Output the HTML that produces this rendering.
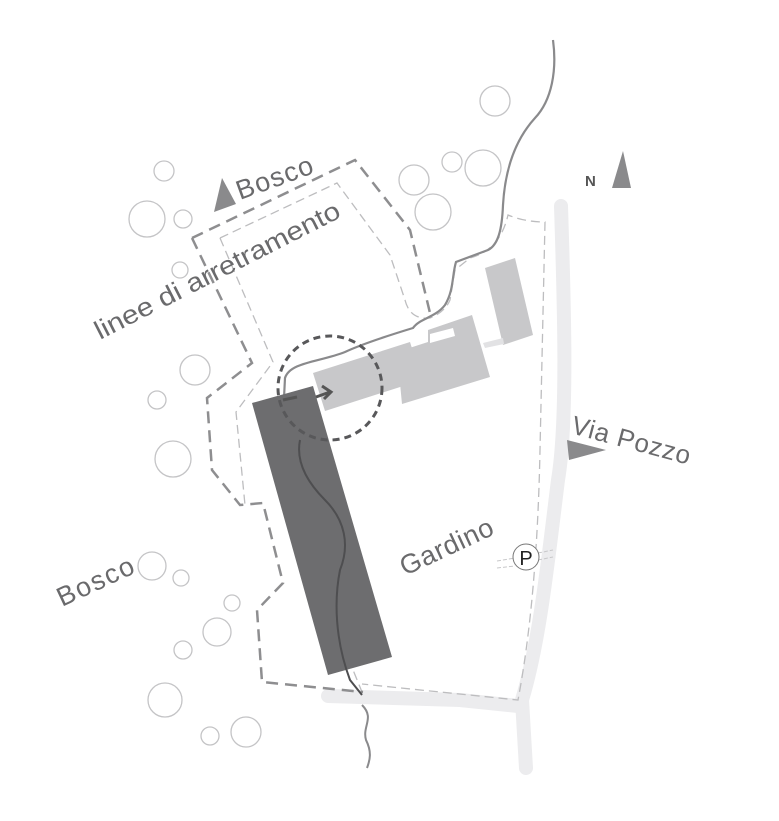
<!DOCTYPE html>
<html><head><meta charset="utf-8"><style>
html,body{margin:0;padding:0;background:#fff}
svg{display:block}
text{font-family:"Liberation Sans",sans-serif;fill:#6a6a6c}
</style></head><body>
<svg width="779" height="821" viewBox="0 0 779 821" xmlns="http://www.w3.org/2000/svg">
<!-- road -->
<g fill="none" stroke="#ececee" stroke-linecap="round" stroke-linejoin="round">
<path d="M561 206 C564 300 568 420 558 480 C548 560 540 640 522 700 L526 768" stroke-width="14"/>
<path d="M328 696 L460 700 L518 706" stroke-width="14"/>
</g>
<!-- trees -->
<g fill="none" stroke="#c4c4c6" stroke-width="1.3">
<circle cx="495" cy="101" r="15"/><circle cx="452" cy="162" r="10"/><circle cx="483" cy="168" r="18"/>
<circle cx="414" cy="180" r="15"/><circle cx="433" cy="212" r="18"/><circle cx="164" cy="171" r="10"/>
<circle cx="147" cy="219" r="18"/><circle cx="183" cy="219" r="9"/><circle cx="180" cy="270" r="8"/>
<circle cx="195" cy="370" r="15"/><circle cx="157" cy="400" r="9"/><circle cx="173" cy="459" r="18"/>
<circle cx="152" cy="566" r="14"/><circle cx="181" cy="578" r="8"/><circle cx="232" cy="603" r="8"/>
<circle cx="217" cy="632" r="14"/><circle cx="183" cy="650" r="9"/><circle cx="165" cy="700" r="17"/>
<circle cx="210" cy="736" r="9"/><circle cx="246" cy="732" r="15"/>
</g>
<!-- inner setback line -->
<g fill="none" stroke="#bdbdbf" stroke-width="1.3" stroke-dasharray="9,5">
<path d="M220 238 L337 183 L390 255 L405 300 Q410 320 430 318 Q445 312 450 300 L455 270 L470 258 Q500 250 508 215 Q525 222 545 222 L540 450 Q537 600 518 700 L362 684"/>
<path d="M220 238 L273 362 L236 412 L245 505"/>
<path d="M280 490 L362 692"/>
</g>
<!-- light buildings -->
<g fill="#c8c8ca">
<polygon points="313,373 410,342 422,380 325,411"/>
<polygon points="397,352 428,342 428,330 472,315 490,377 402,404"/>
<polygon points="485,268 515,258 533,335 503,345"/>
<polygon points="483,343 503,338 504,344 485,348" fill="#e2e2e4"/>
</g>
<polygon points="430,343 455,336 453,328 430,334" fill="#fff"/>
<!-- outer dashed -->
<path d="M192 238 L355 160 L410 230 L430 313 M192 238 L252 363 L207 398 L212 470 L240 505 L263 503 L283 583 L257 610 L262 682 L363 692" fill="none" stroke="#8e8e90" stroke-width="2.5" stroke-dasharray="12,7"/>
<!-- river top -->
<path d="M553 40 C557 70 552 100 535 118 C515 140 505 170 503 205 C502 230 498 245 488 250 L456 262 C452 275 454 290 445 305 C435 318 420 318 413 328 C390 335 360 345 345 352 C320 362 290 362 285 378 L284 398" fill="none" stroke="#8a8a8c" stroke-width="2.2"/>
<!-- dark building -->
<polygon points="252,403 313,386 392,657 328,675" fill="#6d6d6f"/>
<path d="M300 440 C296 460 305 480 325 500 C345 520 350 545 340 570 C334 600 335 640 350 680 L362 695" fill="none" stroke="#4e4e50" stroke-width="2"/>
<path d="M362 705 C375 718 362 726 366 740 C372 752 370 760 367 768" fill="none" stroke="#8a8a8c" stroke-width="2"/>
<!-- arrow in circle -->
<path d="M283 400 L297 397 M316 397 L330 392" stroke="#555" stroke-width="3" fill="none"/>
<path d="M322 386 L331 392 L324 399" stroke="#555" stroke-width="3" fill="none"/>
<circle cx="330" cy="388" r="52" fill="none" stroke="#58585a" stroke-width="3" stroke-dasharray="7,5"/>
<!-- parking -->
<path d="M497 561 L515 558 M497 568 L515 566 M538 553 L553 550 M538 560 L553 557" stroke="#c8c8ca" stroke-width="1" stroke-dasharray="4,2"/>
<circle cx="526" cy="557" r="13" fill="#fff" stroke="#777" stroke-width="1"/>
<text x="526" y="565" font-size="20" text-anchor="middle" style="fill:#222">P</text>
<!-- labels -->
<polygon points="214,212 222,178 236,204" fill="#8a8a8c"/>
<text x="240" y="200" font-size="27" textLength="80" transform="rotate(-20 240 200)">Bosco</text>
<text x="100" y="340" font-size="26" textLength="272" lengthAdjust="spacingAndGlyphs" transform="rotate(-27 100 340)">linee di arretramento</text>
<text x="585" y="186" font-size="15" font-weight="bold" style="fill:#555">N</text>
<polygon points="612,188 623,151 631,188" fill="#8a8a8c"/>
<text x="570" y="433" font-size="26" textLength="122" transform="rotate(15 570 433)">Via Pozzo</text>
<polygon points="567,440 606,450 569,460" fill="#8a8a8c"/>
<text x="405" y="576" font-size="27" textLength="100" transform="rotate(-25 405 576)">Gardino</text>
<text x="62" y="607" font-size="27" textLength="82" transform="rotate(-25 62 607)">Bosco</text>
</svg>
</body></html>
